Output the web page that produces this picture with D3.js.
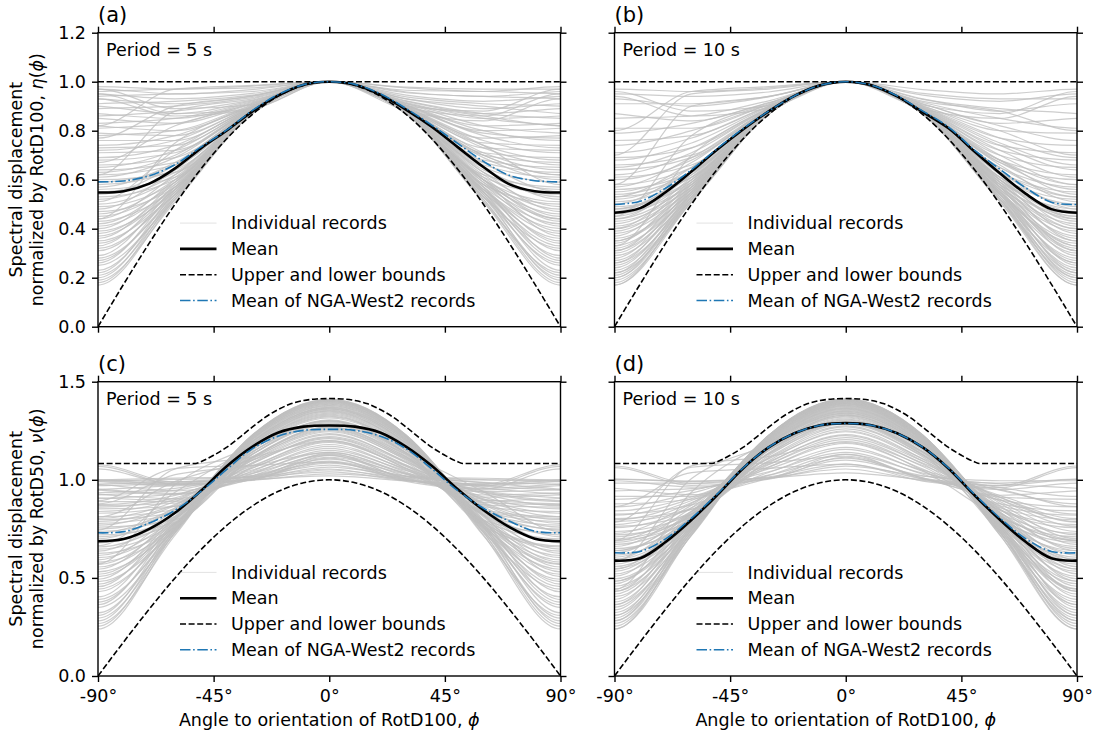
<!DOCTYPE html>
<html>
<head>
<meta charset="utf-8">
<script src="https://cdn.jsdelivr.net/npm/d3@7"></script>
<style>
  body{margin:0;background:#fff}
  svg{display:block;font-family:"DejaVu Sans",sans-serif}
</style>
</head>
<body>
<svg id="fig"></svg>
<script>
// angles of the mean / bound curves (deg)
const angles = [-90,-80,-70,-60,-50,-40,-30,-20,-10,0,10,20,30,40,50,60,70,80,90];

// eta = SD / RotD100
const meanT5eta  = [.548,.553,.584,.646,.728,.800,.878,.943,.988,1,.988,.946,.885,.815,.733,.652,.582,.553,.548];
const ngaT5eta   = [.591,.595,.616,.662,.733,.802,.882,.947,.988,1,.989,.950,.890,.822,.748,.675,.618,.596,.591];
const meanT10eta = [.465,.484,.550,.634,.723,.805,.879,.942,.985,1,.985,.940,.876,.810,.716,.626,.543,.480,.465];
const ngaT10eta  = [.499,.512,.566,.641,.727,.808,.880,.942,.985,1,.986,.942,.880,.815,.722,.643,.567,.508,.499];

// nu = SD / RotD50
const meanT5nu  = [.687,.698,.750,.832,.943,1.068,1.168,1.240,1.271,1.277,1.271,1.240,1.168,1.070,.952,.846,.760,.700,.687];
const ngaT5nu   = [.730,.736,.780,.845,.940,1.052,1.158,1.222,1.252,1.257,1.252,1.222,1.158,1.055,.945,.855,.790,.738,.730];
const meanT10nu = [.588,.600,.684,.796,.923,1.058,1.165,1.237,1.278,1.289,1.278,1.237,1.165,1.058,.923,.796,.684,.600,.588];
const ngaT10nu  = [.628,.635,.700,.805,.928,1.060,1.166,1.237,1.278,1.287,1.278,1.237,1.166,1.060,.928,.805,.700,.635,.628];

// bounds
const lowerBound = [0,.174,.342,.5,.643,.766,.866,.940,.985,1,.985,.940,.866,.766,.643,.5,.342,.174,0];
const upperEta   = [1,1,1,1,1,1,1,1,1,1,1,1,1,1,1,1,1,1,1];
const upperNuAngles = [-90,-52,-50,-45,-40,-35,-30,-25,-20,-15,-10,-5,0,5,10,15,20,25,30,35,40,45,50,52,90];
const upperNu = [1.083,1.083,1.092,1.125,1.165,1.215,1.268,1.318,1.357,1.387,1.404,1.412,1.414,
                 1.412,1.404,1.387,1.357,1.318,1.268,1.215,1.165,1.125,1.092,1.083,1.083];

// individual records: [eta(+-90), eta(-60), eta(-30), eta(30), eta(60), RotD100/RotD50]
const recordAngles = [-120,-90,-60,-30,0,30,60,90,120];
const recordsT5 = [
 [.17,.52,.870,.869,.51,1.41],[.18,.53,.871,.870,.52,1.41],[.19,.51,.869,.872,.54,1.408],[.20,.54,.873,.869,.52,1.405],
 [.21,.52,.870,.871,.53,1.405],[.22,.55,.872,.870,.51,1.403],[.23,.53,.869,.874,.55,1.40],[.25,.52,.871,.869,.54,1.40],
 [.26,.56,.874,.871,.53,1.398],[.27,.54,.870,.870,.55,1.395],[.28,.53,.869,.873,.57,1.392],[.29,.57,.875,.870,.54,1.39],
 [.31,.55,.871,.872,.56,1.385],[.32,.54,.870,.869,.53,1.385],[.33,.58,.876,.871,.55,1.38],[.34,.56,.872,.874,.57,1.378],
 [.35,.54,.870,.870,.56,1.375],[.36,.59,.873,.872,.55,1.37],[.37,.56,.871,.876,.60,1.368],[.38,.57,.874,.870,.56,1.365],
 [.39,.55,.869,.873,.58,1.362],[.40,.60,.876,.871,.56,1.36],[.41,.57,.872,.875,.59,1.355],[.42,.59,.870,.872,.57,1.352],
 [.43,.56,.874,.870,.60,1.35],[.44,.62,.878,.873,.58,1.345],[.45,.58,.871,.877,.61,1.34],[.46,.60,.875,.872,.59,1.335],
 [.47,.57,.872,.874,.63,1.33],[.48,.64,.880,.871,.60,1.325],[.49,.59,.873,.879,.62,1.32],[.50,.61,.876,.873,.58,1.315],
 [.51,.72,.895,.874,.60,1.30],[.52,.62,.874,.880,.65,1.305],[.53,.60,.877,.875,.63,1.30],[.54,.66,.882,.873,.61,1.295],
 [.55,.63,.875,.881,.67,1.29],[.56,.61,.878,.876,.64,1.285],[.57,.67,.884,.874,.62,1.28],[.58,.64,.876,.890,.74,1.27],
 [.59,.66,.880,.877,.65,1.27],[.60,.63,.878,.883,.69,1.265],[.61,.69,.886,.878,.66,1.26],[.62,.66,.880,.885,.70,1.255],
 [.63,.70,.889,.879,.67,1.25],[.64,.67,.882,.887,.71,1.245],[.65,.72,.890,.880,.68,1.235],[.66,.69,.884,.889,.73,1.23],
 [.67,.82,.910,.884,.70,1.21],[.68,.71,.886,.892,.74,1.22],[.69,.74,.893,.885,.71,1.215],[.71,.72,.888,.895,.76,1.20],
 [.72,.76,.896,.887,.73,1.195],[.73,.74,.890,.898,.78,1.19],[.74,.78,.899,.889,.75,1.18],[.76,.76,.893,.902,.80,1.17],
 [.77,.90,.940,.905,.79,1.14],[.78,.80,.905,.895,.77,1.16],[.79,.78,.897,.910,.82,1.15],[.81,.83,.912,.902,.80,1.14],
 [.82,.80,.903,.915,.85,1.13],[.83,.85,.918,.905,.82,1.125],[.85,.83,.908,.922,.87,1.115],[.86,.88,.925,.912,.85,1.105],
 [.87,.85,.915,.930,.90,1.095],[.89,.90,.935,.920,.87,1.09],[.90,.87,.922,.938,.91,1.085],[.91,.92,.945,.930,.89,1.075],
 [.93,.91,.942,.955,.94,1.065],[.94,.95,.960,.945,.92,1.055],[.95,.93,.952,.965,.96,1.05],[.96,.97,.975,.958,.94,1.04],
 [.97,.95,.968,.978,.97,1.03],[.98,.97,.982,.975,.96,1.02],[.97,.89,.905,.900,.88,1.11],[.95,.87,.890,.895,.86,1.125],
 [.93,.86,.888,.882,.84,1.135],[.62,.88,.930,.880,.70,1.20],[.44,.75,.900,.875,.60,1.30],[.82,.97,.985,.910,.86,1.09]
];
const recordsT10 = [
 [.17,.51,.868,.869,.52,1.412],[.17,.53,.870,.868,.51,1.41],[.18,.52,.869,.870,.53,1.41],[.19,.51,.868,.871,.52,1.41],
 [.20,.54,.871,.868,.51,1.408],[.20,.52,.868,.869,.54,1.408],[.21,.53,.870,.868,.52,1.407],[.22,.51,.869,.872,.55,1.406],
 [.22,.55,.872,.869,.52,1.405],[.23,.52,.868,.870,.54,1.405],[.24,.54,.871,.868,.53,1.404],[.25,.53,.869,.873,.56,1.403],
 [.26,.56,.873,.869,.52,1.40],[.26,.52,.868,.871,.55,1.40],[.27,.54,.870,.868,.54,1.398],[.28,.57,.874,.870,.53,1.396],
 [.29,.53,.869,.872,.57,1.395],[.30,.55,.871,.869,.54,1.393],[.31,.58,.875,.870,.55,1.39],[.31,.54,.868,.873,.58,1.39],
 [.32,.56,.872,.869,.55,1.388],[.33,.54,.869,.871,.57,1.386],[.34,.59,.876,.870,.54,1.383],[.35,.55,.870,.874,.59,1.38],
 [.35,.57,.872,.869,.55,1.38],[.36,.55,.869,.872,.58,1.377],[.37,.60,.877,.870,.56,1.374],[.38,.56,.871,.875,.60,1.371],
 [.39,.58,.873,.869,.56,1.368],[.40,.56,.869,.873,.59,1.365],[.40,.61,.878,.871,.57,1.363],[.41,.57,.871,.876,.61,1.36],
 [.42,.59,.874,.870,.57,1.357],[.43,.57,.870,.874,.60,1.354],[.44,.62,.879,.871,.58,1.35],[.44,.58,.872,.877,.62,1.348],
 [.45,.60,.875,.870,.58,1.345],[.46,.58,.871,.875,.61,1.34],[.47,.63,.880,.872,.60,1.335],[.48,.60,.873,.878,.64,1.33],
 [.48,.62,.876,.871,.59,1.33],[.49,.59,.871,.874,.63,1.325],[.50,.65,.882,.873,.61,1.32],[.51,.61,.874,.880,.66,1.315],
 [.52,.63,.877,.872,.61,1.31],[.53,.61,.872,.876,.65,1.305],[.53,.67,.885,.874,.63,1.30],[.54,.63,.875,.882,.68,1.295],
 [.55,.65,.879,.873,.63,1.29],[.56,.63,.874,.878,.67,1.285],[.57,.69,.887,.876,.65,1.275],[.58,.65,.877,.884,.70,1.27],
 [.60,.68,.881,.877,.67,1.26],[.61,.66,.878,.886,.72,1.25],[.62,.71,.889,.880,.68,1.245],[.64,.69,.884,.890,.74,1.23],
 [.65,.73,.892,.882,.70,1.225],[.66,.70,.886,.893,.75,1.215],[.68,.75,.896,.886,.72,1.205],[.69,.73,.890,.898,.77,1.195],
 [.71,.77,.900,.890,.74,1.185],[.74,.80,.906,.895,.77,1.165],[.76,.78,.898,.908,.82,1.155],[.79,.83,.913,.902,.80,1.14],
 [.81,.81,.905,.915,.85,1.13],[.85,.86,.922,.910,.83,1.11],[.87,.84,.915,.928,.89,1.10],[.91,.91,.940,.930,.88,1.08],
 [.93,.90,.938,.952,.93,1.07],[.95,.94,.958,.945,.92,1.055],[.97,.96,.975,.968,.95,1.035],[.96,.88,.902,.905,.87,1.115],
 [.94,.86,.892,.888,.85,1.13],[.45,.78,.910,.875,.60,1.29],[.58,.90,.940,.880,.68,1.19],[.70,.95,.970,.900,.80,1.12],
 [.33,.70,.890,.870,.55,1.34],[.80,.96,.980,.920,.88,1.08]
];

const xTicks = [-90,-45,0,45,90];
const W = 1099, H = 733;
const FS = 17.5;

const panels = [
  {id:'a',x0:98,x1:560.5,y0:32.7,y1:326.7,ymax:1.2,yticks:[0,.2,.4,.6,.8,1,1.2],period:'5 s',
   recs:recordsT5,nu:false,mean:meanT5eta,nga:ngaT5eta,showX:false,showY:true},
  {id:'b',x0:614.5,x1:1077,y0:32.7,y1:326.7,ymax:1.2,yticks:[0,.2,.4,.6,.8,1,1.2],period:'10 s',
   recs:recordsT10,nu:false,mean:meanT10eta,nga:ngaT10eta,showX:false,showY:false},
  {id:'c',x0:98,x1:560.5,y0:381.7,y1:676,ymax:1.5,yticks:[0,.5,1,1.5],period:'5 s',
   recs:recordsT5,nu:true,mean:meanT5nu,nga:ngaT5nu,showX:true,showY:true},
  {id:'d',x0:614.5,x1:1077,y0:381.7,y1:676,ymax:1.5,yticks:[0,.5,1,1.5],period:'10 s',
   recs:recordsT10,nu:true,mean:meanT10nu,nga:ngaT10nu,showX:true,showY:false}
];

const svg = d3.select('#fig').attr('width',W).attr('height',H);
svg.append('rect').attr('width',W).attr('height',H).attr('fill','#fff');

function recordSeries(r,nu){
  const [k,m60,m30,p30,p60,R] = r;
  const v = [p60,k,m60,m30,1,p30,p60,k,m60];   // periodic: -120 == 60, 120 == -60
  return recordAngles.map((a,i)=>[a, nu ? v[i]*R : v[i]]);
}

function styleAxis(g){
  g.select('.domain').remove();
  g.selectAll('line').attr('stroke','#000').attr('stroke-width',1.4);
  g.selectAll('text').attr('fill','#000').attr('font-size',FS);
  g.attr('font-family','DejaVu Sans');
}

function drawPanel(p){
  const x = d3.scaleLinear().domain([-90,90]).range([p.x0,p.x1]);
  const y = d3.scaleLinear().domain([0,p.ymax]).range([p.y1,p.y0]);
  const line = d3.line().x(d=>x(d[0])).y(d=>y(d[1])).curve(d3.curveMonotoneX);
  const smooth = d3.line().x(d=>x(d[0])).y(d=>y(d[1])).curve(d3.curveCatmullRom.alpha(0.5));
  const g = svg.append('g');

  g.append('clipPath').attr('id','clip-'+p.id)
    .append('rect').attr('x',p.x0).attr('y',p.y0).attr('width',p.x1-p.x0).attr('height',p.y1-p.y0);
  const plot = g.append('g').attr('clip-path',`url(#clip-${p.id})`);

  plot.selectAll('.rec')
    .data(p.recs)
    .join('path')
      .classed('rec',true)
      .attr('d',r=>line(recordSeries(r,p.nu)))
      .attr('fill','none')
      .attr('stroke','#bfbfbf')
      .attr('stroke-opacity',0.78)
      .attr('stroke-width',1.2);

  plot.append('path')
    .attr('d',smooth(angles.map((a,i)=>[a,p.mean[i]])))
    .attr('fill','none').attr('stroke','#000').attr('stroke-width',2.6);

  const up = p.nu ? upperNuAngles.map((a,i)=>[a,upperNu[i]]) : angles.map((a,i)=>[a,upperEta[i]]);
  [up, angles.map((a,i)=>[a,lowerBound[i]])].forEach(s=>{
    plot.append('path').attr('d',line(s))
      .attr('fill','none').attr('stroke','#000').attr('stroke-width',1.6)
      .attr('stroke-dasharray','6 2.6');
  });

  plot.append('path')
    .attr('d',smooth(angles.map((a,i)=>[a,p.nga[i]])))
    .attr('fill','none').attr('stroke','#1f77b4').attr('stroke-width',1.6)
    .attr('stroke-dasharray','10.5 2.6 1.6 2.6');

  // axes: ticks on all four sides, labels on left / bottom only
  g.append('g').attr('transform',`translate(${p.x0},0)`)
    .call(d3.axisLeft(y).tickValues(p.yticks).tickSize(6).tickPadding(6)
      .tickFormat(p.showY ? d3.format('.1f') : ''))
    .call(styleAxis);
  g.append('g').attr('transform',`translate(${p.x1},0)`)
    .call(d3.axisRight(y).tickValues(p.yticks).tickSize(6).tickFormat(''))
    .call(styleAxis);
  g.append('g').attr('transform',`translate(0,${p.y1})`)
    .call(d3.axisBottom(x).tickValues(xTicks).tickSize(6).tickPadding(8)
      .tickFormat(p.showX ? (d=>`${d}°`) : ''))
    .call(styleAxis);
  g.append('g').attr('transform',`translate(0,${p.y0})`)
    .call(d3.axisTop(x).tickValues(xTicks).tickSize(6).tickFormat(''))
    .call(styleAxis);

  g.append('rect')
    .attr('x',p.x0).attr('y',p.y0).attr('width',p.x1-p.x0).attr('height',p.y1-p.y0)
    .attr('fill','none').attr('stroke','#000').attr('stroke-width',1.4);

  g.append('text').attr('x',p.x0).attr('y',p.y0-11)
    .attr('font-size',21).text(`(${p.id})`);
  g.append('text').attr('x',p.x0+8).attr('y',p.y0+23)
    .attr('font-size',FS).text(`Period = ${p.period}`);

  // legend
  const items = [
    {t:'Individual records',c:'#bfbfbf',w:1,o:0.45,da:null},
    {t:'Mean',c:'#000',w:2.6,o:1,da:null},
    {t:'Upper and lower bounds',c:'#000',w:1.6,o:1,da:'6 2.6'},
    {t:'Mean of NGA-West2 records',c:'#1f77b4',w:1.6,o:1,da:'10.5 2.6 1.6 2.6'}
  ];
  const lg = g.append('g').attr('transform',`translate(${p.x0+82},${p.y1-103.6})`);
  items.forEach((it,i)=>{
    lg.append('line').attr('x1',0).attr('x2',36.5).attr('y1',i*25.8).attr('y2',i*25.8)
      .attr('stroke',it.c).attr('stroke-width',it.w).attr('stroke-opacity',it.o)
      .attr('stroke-dasharray',it.da);
    lg.append('text').attr('x',51).attr('y',i*25.8).attr('dy','0.35em')
      .attr('font-size',FS).text(it.t);
  });

  if(p.showX){
    const t = g.append('text').attr('x',(p.x0+p.x1)/2).attr('y',726)
      .attr('text-anchor','middle').attr('font-size',FS);
    t.append('tspan').text('Angle to orientation of RotD100, ');
    t.append('tspan').attr('font-style','italic').text('ϕ');
  }
  if(p.showY){
    const cy = (p.y0+p.y1)/2;
    g.append('text').attr('transform',`translate(21.5,${cy}) rotate(-90)`)
      .attr('text-anchor','middle').attr('font-size',FS).text('Spectral displacement');
    const t2 = g.append('text').attr('transform',`translate(42.5,${cy}) rotate(-90)`)
      .attr('text-anchor','middle').attr('font-size',FS);
    t2.append('tspan').text(`normalized by ${p.nu ? 'RotD50' : 'RotD100'}, `);
    t2.append('tspan').attr('font-style','italic').text(p.nu ? 'ν' : 'η');
    t2.append('tspan').text('(');
    t2.append('tspan').attr('font-style','italic').text('ϕ');
    t2.append('tspan').text(')');
  }
}

panels.forEach(drawPanel);
</script>
</body>
</html>
